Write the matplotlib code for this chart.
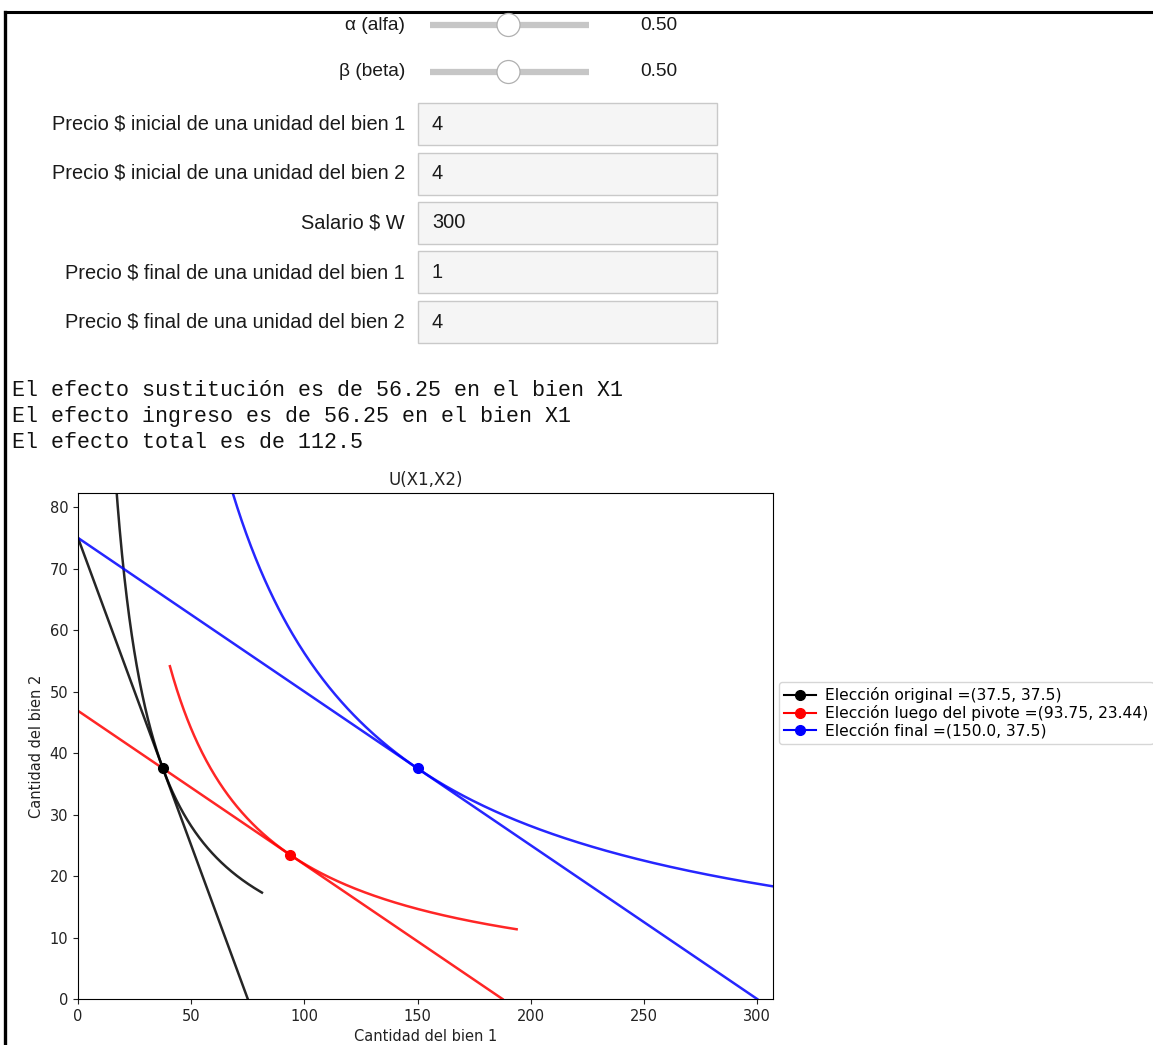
import numpy as np
import matplotlib
matplotlib.use("Agg")
import matplotlib.pyplot as plt
from matplotlib.patches import Rectangle, Circle
from matplotlib.lines import Line2D

# ---------------- data ----------------
alpha = 0.50
beta = 0.50
p1_initial = 4
p2_initial = 4
wage = 300
p1_final = 1
p2_final = 4

slider_labels = ["α (alfa)", "β (beta)"]
slider_values = [alpha, beta]
box_labels = ["Precio $ inicial de una unidad del bien 1",
              "Precio $ inicial de una unidad del bien 2",
              "Salario $ W",
              "Precio $ final de una unidad del bien 1",
              "Precio $ final de una unidad del bien 2"]
box_values = ["4", "4", "300", "1", "4"]

output_lines = ["El efecto sustitución es de 56.25 en el bien X1",
                "El efecto ingreso es de 56.25 en el bien X1",
                "El efecto total es de 112.5"]

# chosen bundles (x1, x2)
choice_names = ["Elección original", "Elección luego del pivote", "Elección final"]
choice_x1 = [37.5, 93.75, 150.0]
choice_x2 = [37.5, 23.44, 37.5]
colors = ["black", "red", "blue"]

# budget lines: (x2 intercept, x1 intercept)
budget_x2_int = [75.0, 46.875, 75.0]
budget_x1_int = [75.0, 187.5, 300.0]

# drawn x1-range of each indifference curve
ic_x1_start = [10.0, 40.6, 50.0]
ic_x1_end = [81.25, 193.75, 320.0]

xlim = (0, 307)
ylim = (0, 82.3)
xticks = [0, 50, 100, 150, 200, 250, 300]
yticks = [0, 10, 20, 30, 40, 50, 60, 70, 80]

# ---------------- figure ----------------
W, H = 1153, 1045
fig = plt.figure(figsize=(W / 100, H / 100), dpi=100)

def fx(px):
    return px / W

def fy(py):
    return 1 - py / H

sans = ["Liberation Sans", "DejaVu Sans"]
label_col = "#1a1a1a"

# outer frame
fig.add_artist(Line2D([fx(5), fx(5)], [fy(12), fy(1045)], color="black", lw=2.4,
                      transform=fig.transFigure))
fig.add_artist(Line2D([fx(5), fx(1153)], [fy(12), fy(12)], color="black", lw=2.2,
                      transform=fig.transFigure))

# sliders
for i, (lab, val) in enumerate(zip(slider_labels, slider_values)):
    yc = 25 + i * 47
    fig.text(fx(405), fy(yc), lab, ha="right", va="center", fontsize=13.8,
             family=sans, color=label_col)
    fig.add_artist(Line2D([fx(430), fx(589)], [fy(yc), fy(yc)], color="#c6c6c6",
                          lw=4.5, solid_capstyle="butt", transform=fig.transFigure))
    hx = 430 + val * (589 - 430) - 1
    fig.add_artist(Circle((hx, H - yc), 11.5, transform=None, facecolor="white",
                          edgecolor="#b0b0b0", lw=0.9, zorder=5))
    fig.text(fx(640), fy(yc), f"{val:.2f}", ha="left", va="center", fontsize=13.8,
             family=sans, color=label_col)

# text boxes
for i, (lab, val) in enumerate(zip(box_labels, box_values)):
    yc = 124 + i * 49.5
    fig.text(fx(405), fy(yc), lab, ha="right", va="center", fontsize=14.4,
             family=sans, color=label_col)
    fig.add_artist(Rectangle((fx(418), fy(yc + 21)), fx(717) - fx(418), fy(yc - 21) - fy(yc + 21),
                             transform=fig.transFigure, facecolor="#f5f5f5",
                             edgecolor="#c9c9c9", lw=1.0))
    fig.text(fx(432), fy(yc), val, ha="left", va="center", fontsize=14.4,
             family=sans, color=label_col)

# printed output
for i, line in enumerate(output_lines):
    fig.text(fx(12), fy(391 + i * 26), line, ha="left", va="center", fontsize=15.6,
             family=["Liberation Mono", "DejaVu Sans Mono"], color="#111111")

# ---------------- chart ----------------
ax = fig.add_axes([fx(78), fy(999), fx(773) - fx(78), fy(493) - fy(999)])

for i in range(3):
    c = colors[i]
    # budget line
    ax.plot([0, budget_x1_int[i]], [budget_x2_int[i], 0], color=c, lw=1.8, alpha=0.85)
    # indifference curve through chosen bundle (Cobb-Douglas, alpha/beta)
    u = choice_x1[i] ** alpha * choice_x2[i] ** beta
    x1 = np.linspace(ic_x1_start[i], ic_x1_end[i], 400)
    x2 = (u / x1 ** alpha) ** (1 / beta)
    ax.plot(x1, x2, color=c, lw=1.8, alpha=0.85)

for i in range(3):
    ax.plot([choice_x1[i]], [choice_x2[i]], "o-", color=colors[i], ms=7,
            label=f"{choice_names[i]} =({choice_x1[i]}, {choice_x2[i]})")

ax.set_xlim(*xlim)
ax.set_ylim(*ylim)
ax.set_xticks(xticks)
ax.set_yticks(yticks)
ax.tick_params(labelsize=10.5, colors="#222222")
ax.set_title("U(X1,X2)", fontsize=12, color="#222222")
ax.set_xlabel("Cantidad del bien 1", fontsize=10.5, color="#222222")
ax.set_ylabel("Cantidad del bien 2", fontsize=10.5, color="#222222")

leg = fig.legend(*ax.get_legend_handles_labels(), loc="center left",
                 bbox_to_anchor=(fx(779), fy(713)), fontsize=11.2, frameon=True,
                 borderaxespad=0, handlelength=2.0, labelspacing=0.12,
                 handletextpad=0.6, borderpad=0.35)
leg.get_frame().set_edgecolor("#cccccc")

fig.savefig("out.png", dpi=100)
